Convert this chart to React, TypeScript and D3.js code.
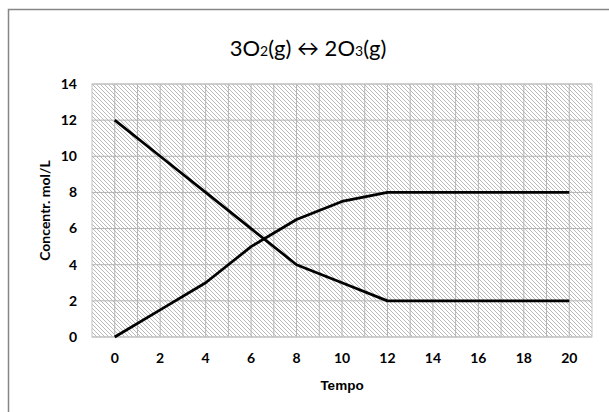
import * as d3 from 'd3';

// tempo values (x) and concentrations for each species
const tempo = [0, 2, 4, 6, 8, 10, 12, 14, 16, 18, 20];
const o2 = [12, 10, 8, 6, 4, 3, 2, 2, 2, 2, 2];
const o3 = [0, 1.5, 3, 5, 6.5, 7.5, 8, 8, 8, 8, 8];
const xTicks = [0, 2, 4, 6, 8, 10, 12, 14, 16, 18, 20];
const yTicks = [0, 2, 4, 6, 8, 10, 12, 14];

const W = 609;
const H = 412;
const plot = { left: 92, right: 592, top: 84, bottom: 337 };
const font = "Lato, 'Open Sans', sans-serif";

export default function App() {
  const x = d3.scaleLinear().domain([-1, 21]).range([plot.left, plot.right]);
  const y = d3.scaleLinear().domain([0, 14]).range([plot.bottom, plot.top]);

  const line = d3.line<number>()
    .x((_, i) => x(tempo[i]))
    .y(d => y(d));

  const vGrid = d3.range(0, 21);

  return (
    <svg width={W} height={H} style={{ position: 'absolute', left: 0, top: 0, background: '#fff' }}>
      <defs>
        <pattern id="hatch" patternUnits="userSpaceOnUse" width={4} height={4}>
          <rect width={4} height={4} fill="#fff" />
          <path d="M0,0 L4,4 M-1,3 L1,5 M3,-1 L5,1" stroke="#b2b2b2" strokeWidth={0.9} />
        </pattern>
      </defs>

      <rect x={8.5} y={9.5} width={640} height={440} fill="#fff" stroke="#868686" strokeWidth={1.5} />

      <text x={308} y={56} textAnchor="middle" fontFamily={font} fontSize={22} fill="#000">
        3O<tspan fontSize={14}>2</tspan>(g) ↔ 2O<tspan fontSize={14}>3</tspan>(g)
      </text>

      <rect x={plot.left} y={plot.top} width={plot.right - plot.left} height={plot.bottom - plot.top}
        fill="url(#hatch)" />

      {vGrid.map(v => (
        <line key={'v' + v} x1={x(v)} x2={x(v)} y1={plot.top} y2={plot.bottom} stroke="#b4b4b4" strokeWidth={1} />
      ))}
      {yTicks.map(v => (
        <line key={'h' + v} x1={plot.left} x2={plot.right} y1={y(v)} y2={y(v)} stroke="#b4b4b4" strokeWidth={1} />
      ))}
      <rect x={plot.left} y={plot.top} width={plot.right - plot.left} height={plot.bottom - plot.top}
        fill="none" stroke="#c4c4c4" strokeWidth={1} />

      <path d={line(o2) || ''} fill="none" stroke="#000" strokeWidth={2.75} strokeLinejoin="round" />
      <path d={line(o3) || ''} fill="none" stroke="#000" strokeWidth={2.75} strokeLinejoin="round" />

      {yTicks.map(v => (
        <text key={'yt' + v} x={77} y={y(v)} dy="0.35em" textAnchor="end" fontFamily={font}
          fontSize={14} fontWeight="bold" fill="#000">{v}</text>
      ))}
      {xTicks.map(v => (
        <text key={'xt' + v} x={x(v)} y={358} dy="0.35em" textAnchor="middle" fontFamily={font}
          fontSize={14} fontWeight="bold" fill="#000">{v}</text>
      ))}

      <text transform={`translate(45,${(plot.top + plot.bottom) / 2}) rotate(-90)`} dy="0.35em"
        textAnchor="middle" fontFamily={font} fontSize={14} fontWeight="bold" fill="#000">Concentr. mol/L</text>
      <text x={(plot.left + plot.right) / 2} y={385} dy="0.35em" textAnchor="middle"
        fontFamily="'Liberation Sans', Arial, sans-serif" fontSize={13.5} fontWeight="bold" fill="#000">Tempo</text>
    </svg>
  );
}
